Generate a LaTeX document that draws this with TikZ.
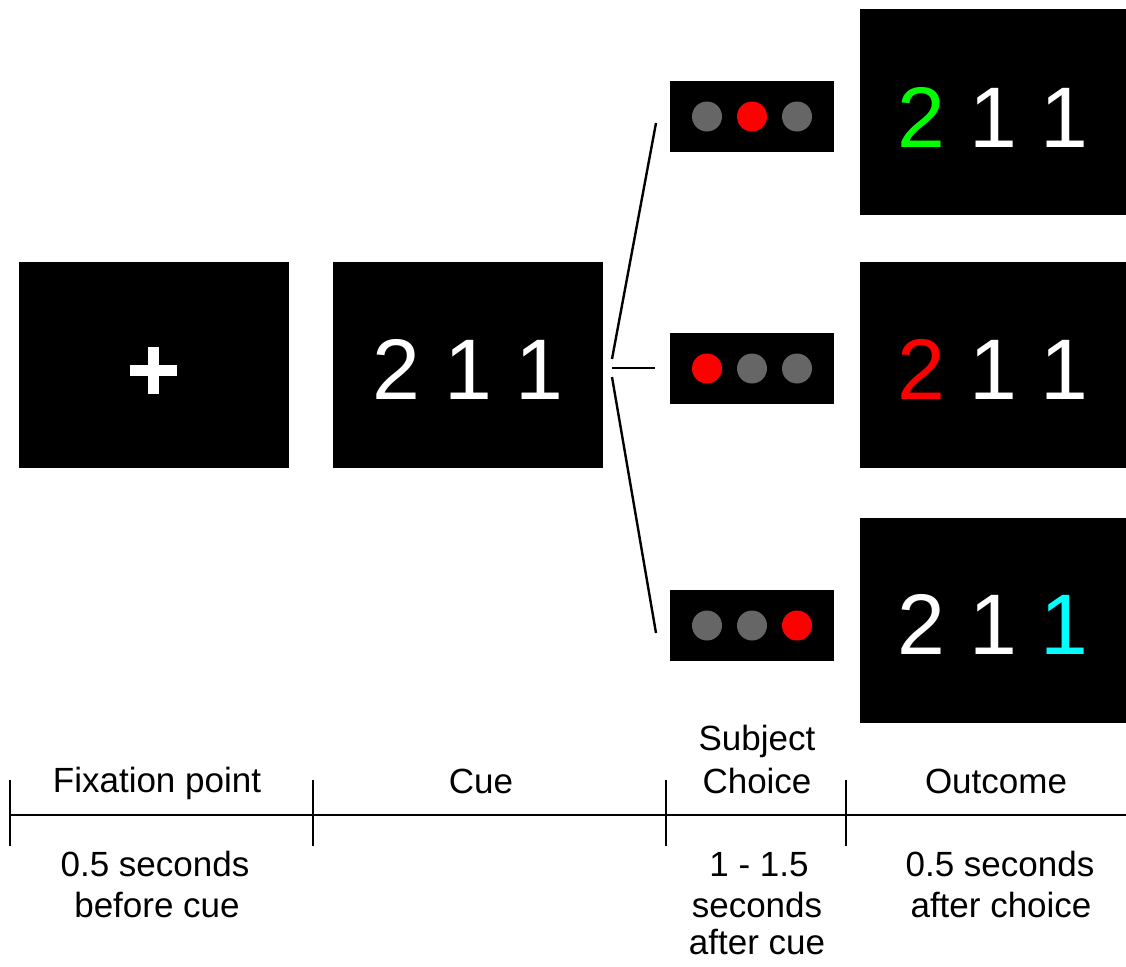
\documentclass[tikz,border=0pt]{standalone}
\usepackage{fontspec}
\setmainfont{Liberation Sans}
\definecolor{grn}{RGB}{0,255,0}
\definecolor{cyn}{RGB}{0,255,255}
\definecolor{rd}{RGB}{255,0,0}
\definecolor{dotgray}{RGB}{102,102,102}
\tikzset{
  screen/.style={fill=black, draw=none, inner sep=0pt},
  bigscreen/.style={screen, minimum width=135pt, minimum height=103pt},
  choicebox/.style={screen, minimum width=82pt, minimum height=35.5pt},
  digits/.style={text=white, inner sep=0pt, anchor=base, font=\fontsize{43}{50}\selectfont},
  lbl/.style={inner sep=0pt, anchor=base, font=\fontsize{17.5}{21}\selectfont},
  dot/.style={circle, inner sep=0pt, minimum size=15pt, draw=none},
  fan/.style={line width=1.2pt},
  tline/.style={line width=1.2pt},
}
\begin{document}
\begin{tikzpicture}[x=0.5pt,y=-0.5pt]
\useasboundingbox (0,0) rectangle (1126,966);
% fixation
\node[bigscreen] (fix) at (153.5,365) {};
\coordinate (plusc) at (153.5,370.5);
\draw[white, line width=5.6pt] ([xshift=-11.75pt]plusc) -- ([xshift=11.75pt]plusc);
\draw[white, line width=5.4pt] ([yshift=11.75pt]plusc) -- ([yshift=-11.75pt]plusc);
% cue
\node[bigscreen] (cue) at (468,365) {};
\node[digits] (cuetext) at (468,399) {2 1 1};
% choices
\node[choicebox] (ch1) at (752,116.5) {};
\node[choicebox] (ch2) at (752,368.5) {};
\node[choicebox] (ch3) at (752,625.5) {};
\node[dot, fill=dotgray] (c1a) at (707,116.5) {};
\node[dot, fill=rd] (c1b) at (752,116.5) {};
\node[dot, fill=dotgray] (c1c) at (797,116.5) {};
\node[dot, fill=rd] (c2a) at (707,368.5) {};
\node[dot, fill=dotgray] (c2b) at (752,368.5) {};
\node[dot, fill=dotgray] (c2c) at (797,368.5) {};
\node[dot, fill=dotgray] (c3a) at (707,625.5) {};
\node[dot, fill=dotgray] (c3b) at (752,625.5) {};
\node[dot, fill=rd] (c3c) at (797,625.5) {};
% fan connectors
\coordinate (f1) at (612,359);
\coordinate (f2) at (612,368);
\coordinate (f3) at (612,377);
\coordinate (e1) at (656,123);
\coordinate (e2) at (655,368);
\coordinate (e3) at (656,633);
\draw[fan] (f1) -- (e1);
\draw[fan] (f2) -- (e2);
\draw[fan] (f3) -- (e3);
% outcomes
\node[screen, minimum width=133pt, minimum height=103pt] (out1) at (993,112) {};
\node[screen, minimum width=133pt, minimum height=103pt] (out2) at (993,365) {};
\node[screen, minimum width=133pt, minimum height=102.5pt] (out3) at (993,620.5) {};
\node[digits] (o1text) at (993,147) {\textcolor{grn}{2} 1 1};
\node[digits] (o2text) at (993,399) {\textcolor{rd}{2} 1 1};
\node[digits] (o3text) at (993,654) {2 1 \textcolor{cyn}{1}};
% timeline
\coordinate (t0) at (10,815);
\coordinate (tend) at (1126,815);
\draw[tline] (t0) -- (tend);
\foreach \x/\n in {10/k0, 313/k1, 666/k2, 846/k3} {
  \coordinate (\n top) at (\x,780);
  \coordinate (\n bot) at (\x,846);
  \draw[tline] (\n top) -- (\n bot);
}
% labels
\node[lbl] (lfix) at (157,792) {Fixation point};
\node[lbl] (lcue) at (481,793) {Cue};
\node[lbl] (lsub1) at (757,750) {Subject};
\node[lbl] (lsub2) at (757,793) {Choice};
\node[lbl] (lout) at (996,793) {Outcome};
\node[lbl] (dfix1) at (155,876) {0.5 seconds};
\node[lbl] (dfix2) at (157,917) {before cue};
\node[lbl] (dch1) at (759,876) {1 - 1.5};
\node[lbl] (dch2) at (757,917) {seconds};
\node[lbl] (dch3) at (757,954) {after cue};
\node[lbl] (dout1) at (1000,876) {0.5 seconds};
\node[lbl] (dout2) at (1001,917) {after choice};
\end{tikzpicture}
\end{document}
